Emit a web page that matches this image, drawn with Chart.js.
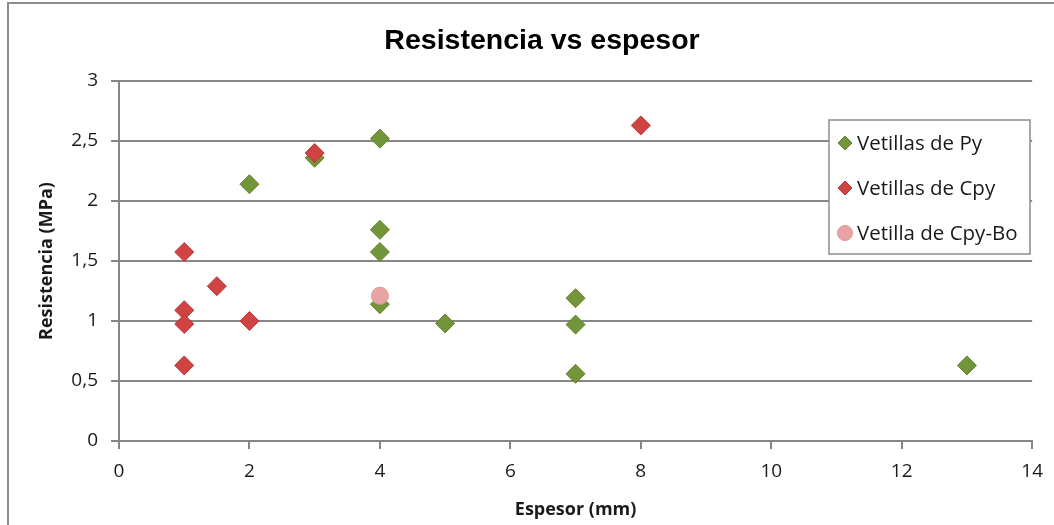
<!DOCTYPE html>
<html>
<head>
<meta charset="utf-8">
<script src="https://cdn.jsdelivr.net/npm/chart.js@4.4.1/dist/chart.umd.min.js"></script>
<style>
  html, body { margin: 0; padding: 0; background: #ffffff; }
  #wrap { position: relative; width: 1054px; height: 525px; }
  canvas { display: block; }
</style>
</head>
<body>
<div id="wrap"><canvas id="c" width="1054" height="525"></canvas></div>
<script>
// Espesor (mm) and Resistencia (MPa) for each group of samples
const pyEspesor = [2, 3, 4, 4, 4, 4, 5, 7, 7, 7, 13];
const pyResistencia = [2.14, 2.36, 2.52, 1.76, 1.575, 1.14, 0.98, 1.19, 0.97, 0.56, 0.63];

const cpyEspesor = [1, 1, 1, 1, 1.5, 2, 3, 8];
const cpyResistencia = [1.575, 1.09, 0.975, 0.63, 1.29, 1.0, 2.40, 2.63];

const boEspesor = [4];
const boResistencia = [1.21];

const seriesNames = ['Vetillas de Py', 'Vetillas de Cpy', 'Vetilla de Cpy-Bo'];
const chartTitle = 'Resistencia vs espesor';
const xTicks = [0, 2, 4, 6, 8, 10, 12, 14];
const yTicks = [0, 0.5, 1, 1.5, 2, 2.5, 3];

const toPoints = (xs, ys) => xs.map((x, i) => ({ x: x, y: ys[i] }));

const GRID = '#868686';
const FONT = "'Open Sans', 'DejaVu Sans', sans-serif";

// Outer frame of the chart object and the heading above the plot
const framePlugin = {
  id: 'frame',
  afterDraw(chart) {
    const ctx = chart.ctx;
    ctx.save();
    ctx.strokeStyle = '#8c8c8c';
    ctx.lineWidth = 2;
    ctx.beginPath();
    ctx.moveTo(8, chart.height);
    ctx.lineTo(8, 3);
    ctx.lineTo(chart.width, 3);
    ctx.stroke();

    ctx.fillStyle = '#000000';
    ctx.font = "bold 28.5px 'Liberation Sans', Arial, sans-serif";
    ctx.textAlign = 'center';
    ctx.textBaseline = 'middle';
    ctx.fillText(chartTitle, 542, 41);
    ctx.restore();
  }
};

// Boxed legend sitting inside the plot area
const boxLegend = {
  id: 'boxLegend',
  afterDatasetsDraw(chart) {
    const ctx = chart.ctx;
    const bx = 829, by = 120, bw = 201, bh = 134;
    ctx.save();
    ctx.fillStyle = '#ffffff';
    ctx.fillRect(bx, by, bw, bh);
    ctx.strokeStyle = '#8c8c8c';
    ctx.lineWidth = 1.5;
    ctx.strokeRect(bx, by, bw, bh);
    const rows = [143, 188, 233];
    chart.data.datasets.forEach((ds, i) => {
      const mx = 845, my = rows[i];
      ctx.fillStyle = ds.backgroundColor;
      ctx.strokeStyle = ds.borderColor;
      ctx.lineWidth = 1;
      ctx.beginPath();
      if (ds.pointStyle === 'circle') {
        ctx.arc(mx, my, 7.5, 0, Math.PI * 2);
      } else {
        const r = 7;
        ctx.moveTo(mx, my - r);
        ctx.lineTo(mx + r, my);
        ctx.lineTo(mx, my + r);
        ctx.lineTo(mx - r, my);
        ctx.closePath();
      }
      ctx.fill();
      ctx.stroke();
      ctx.fillStyle = '#1a1a1a';
      ctx.font = '20.5px ' + FONT;
      ctx.textBaseline = 'middle';
      ctx.textAlign = 'left';
      ctx.fillText(ds.label, 857, my + 1);
    });
    ctx.restore();
  }
};

new Chart(document.getElementById('c'), {
  type: 'scatter',
  data: {
    datasets: [
      {
        label: seriesNames[0],
        data: toPoints(pyEspesor, pyResistencia),
        pointStyle: 'rectRot',
        pointRadius: 9.5,
        backgroundColor: '#72953a',
        borderColor: '#638430',
        borderWidth: 1,
        order: 2
      },
      {
        label: seriesNames[1],
        data: toPoints(cpyEspesor, cpyResistencia),
        pointStyle: 'rectRot',
        pointRadius: 9.5,
        backgroundColor: '#d04343',
        borderColor: '#bb3838',
        borderWidth: 1,
        order: 1
      },
      {
        label: seriesNames[2],
        data: toPoints(boEspesor, boResistencia),
        pointStyle: 'circle',
        pointRadius: 8.5,
        backgroundColor: '#e9a3a3',
        borderColor: '#e29898',
        borderWidth: 1,
        order: 0
      }
    ]
  },
  options: {
    responsive: false,
    animation: false,
    events: [],
    layout: { padding: { left: 0, right: 18, top: 81, bottom: 0 } },
    plugins: {
      legend: { display: false },
      tooltip: { enabled: false },
      title: { display: false }
    },
    scales: {
      x: {
        type: 'linear',
        min: 0,
        max: 14,
        afterBuildTicks(scale) { scale.ticks = xTicks.map(v => ({ value: v })); },
        afterFit(scale) { scale.height = 84; },
        ticks: {
          color: '#1a1a1a',
          font: { family: FONT, size: 19 },
          padding: 11,
          maxRotation: 0
        },
        grid: { drawOnChartArea: false, drawTicks: true, tickLength: 8, color: GRID, lineWidth: 2 },
        border: { display: true, color: GRID, width: 2 },
        title: {
          display: true,
          text: 'Espesor (mm)',
          color: '#1a1a1a',
          font: { family: FONT, size: 18, weight: 'bold' },
          padding: { top: 0, bottom: 4 }
        }
      },
      y: {
        type: 'linear',
        min: 0,
        max: 3,
        afterBuildTicks(scale) { scale.ticks = yTicks.map(v => ({ value: v })); },
        afterFit(scale) { scale.width = 119; },
        ticks: {
          color: '#1a1a1a',
          font: { family: FONT, size: 19 },
          padding: 13,
          callback: (v) => String(v).replace('.', ',')
        },
        grid: { drawOnChartArea: true, drawTicks: true, tickLength: 8, color: GRID, lineWidth: 2 },
        border: { display: true, color: GRID, width: 2 },
        title: {
          display: true,
          text: 'Resistencia (MPa)',
          color: '#1a1a1a',
          font: { family: FONT, size: 18, weight: 'bold' },
          padding: { top: 36, bottom: 0 }
        }
      }
    }
  },
  plugins: [framePlugin, boxLegend]
});
</script>
</body>
</html>
